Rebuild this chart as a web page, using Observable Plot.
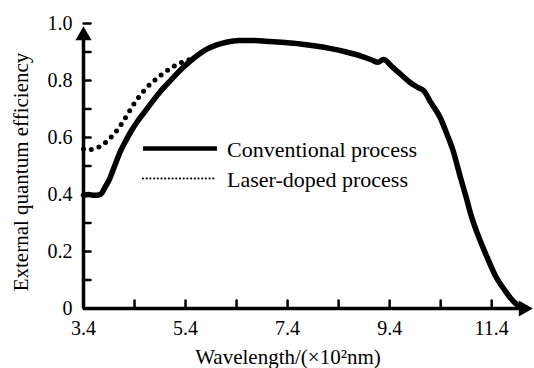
<!DOCTYPE html>
<html>
<head>
<meta charset="utf-8">
<script src="https://cdn.jsdelivr.net/npm/d3@7"></script>
<script src="https://cdn.jsdelivr.net/npm/@observablehq/plot@0.6"></script>
<style>
  html, body { margin: 0; padding: 0; background: #fff; }
  #wrap { position: relative; width: 534px; height: 368px; overflow: hidden; }
  #legend { position: absolute; left: 0; top: 0; pointer-events: none; }
</style>
</head>
<body>
<div id="wrap"></div>
<script>
// ---- data ----
const xDomain = [3.4, 12.2];
const yDomain = [0, 1];

const seriesNames = ["Conventional process", "Laser-doped process"];
const xTitle = "Wavelength/(×10²nm)";
const yTitle = "External quantum efficiency";

// Conventional process (solid)
const convWavelength = [3.40, 3.50, 3.60, 3.70, 3.76, 3.82, 3.90, 4.00, 4.13, 4.23, 4.35, 4.46, 4.59, 4.75, 4.91, 5.08, 5.24, 5.44, 5.63, 5.80, 6.00, 6.20, 6.45, 6.75, 7.05, 7.35, 7.65, 7.95, 8.25, 8.55, 8.85, 9.05, 9.17, 9.28, 9.45, 9.61, 9.80, 9.95, 10.07, 10.20, 10.39, 10.52, 10.65, 10.78, 10.90, 11.00, 11.17, 11.31, 11.47, 11.66, 11.80, 11.92, 12.02];
const convEQE = [0.397, 0.400, 0.397, 0.398, 0.405, 0.425, 0.45, 0.496, 0.554, 0.589, 0.627, 0.657, 0.688, 0.726, 0.762, 0.795, 0.826, 0.86, 0.888, 0.908, 0.924, 0.934, 0.94, 0.94, 0.937, 0.933, 0.928, 0.921, 0.912, 0.90, 0.885, 0.872, 0.864, 0.874, 0.848, 0.823, 0.793, 0.776, 0.764, 0.725, 0.67, 0.613, 0.55, 0.465, 0.39, 0.325, 0.24, 0.18, 0.116, 0.063, 0.03, 0.01, 0.0];

// Laser-doped process (dotted)
const laserWavelength = [3.40, 3.50, 3.60, 3.72, 3.85, 3.95, 4.07, 4.19, 4.29, 4.39, 4.51, 4.64, 4.81, 4.97, 5.14, 5.30, 5.45, 5.60, 5.75];
const laserEQE = [0.56, 0.556, 0.56, 0.568, 0.585, 0.603, 0.628, 0.66, 0.689, 0.718, 0.748, 0.775, 0.803, 0.826, 0.847, 0.862, 0.872, 0.884, 0.902];

const yTickValues = [0, 0.1, 0.2, 0.3, 0.4, 0.5, 0.6, 0.7, 0.8, 0.9, 1.0];
const yLabelValues = [0, 0.2, 0.4, 0.6, 0.8, 1.0];
const xTickValues = [4.4, 5.4, 6.4, 7.4, 8.4, 9.4, 10.4, 11.4];
const xLabelValues = [3.4, 5.4, 7.4, 9.4, 11.4];

// ---- build ----
const conv = convWavelength.map((w, i) => ({w, v: convEQE[i]}));
const laser = laserWavelength.map((w, i) => ({w, v: laserEQE[i]}));
const font = "Liberation Serif, Times New Roman, serif";
const stick = {draw(context, l) { context.moveTo(0, 0); context.lineTo(0, -l); }};

const chart = Plot.plot({
  width: 534,
  height: 368,
  marginLeft: 83,
  marginRight: 2,
  marginTop: 23,
  marginBottom: 60,
  style: {fontFamily: font, fontSize: "20px", color: "black", background: "white", overflow: "hidden"},
  x: {domain: xDomain},
  y: {domain: yDomain},
  marks: [
    Plot.axisY({ticks: yLabelValues, tickSize: 0, tickPadding: 11, tickFormat: d => d === 0 ? "0" : d.toFixed(1), fontSize: 20, label: null}),
    Plot.axisX({ticks: xLabelValues, tickSize: 0, tickPadding: 12, tickFormat: d => d.toFixed(1), fontSize: 20, label: null}),
    Plot.vector(yTickValues, {x: xDomain[0], y: d => d, length: 7, rotate: 90, anchor: "start", shape: stick, strokeWidth: 2.5, stroke: "black"}),
    Plot.vector(xTickValues, {x: d => d, y: yDomain[0], length: 8, rotate: 0, anchor: "start", shape: stick, strokeWidth: 2.5, stroke: "black"}),
    Plot.ruleX([xDomain[0]], {y1: yDomain[0], y2: yDomain[1] * 0.96, strokeWidth: 3.5, stroke: "black"}),
    Plot.ruleY([yDomain[0]], {x1: xDomain[0], x2: xDomain[1] - 0.2, strokeWidth: 3.5, stroke: "black"}),
    Plot.dot([yDomain[1]], {x: xDomain[0], y: d => d, symbol: "triangle", r: 6, fill: "black", stroke: "none", dy: 12}),
    Plot.dot([xDomain[1]], {x: d => d, y: yDomain[0], symbol: "triangle", r: 6, rotate: 90, fill: "black", stroke: "none", dx: -9}),
    Plot.line(laser, {x: "w", y: "v", curve: "monotone-x", stroke: "black", strokeWidth: 5, strokeDasharray: "0 8", strokeLinecap: "round"}),
    Plot.line(conv, {x: "w", y: "v", curve: "monotone-x", stroke: "black", strokeWidth: 5.5, strokeLinejoin: "round", strokeLinecap: "round"}),
    Plot.text([yTitle], {frameAnchor: "left", textAnchor: "middle", rotate: -90, dx: -62, dy: 6, fontSize: 21, fill: "black"}),
    Plot.text([xTitle], {frameAnchor: "bottom", textAnchor: "middle", lineAnchor: "top", dx: -20, dy: 41, fontSize: 21, fill: "black"})
  ]
});

const wrap = document.getElementById("wrap");
wrap.appendChild(chart);

// legend overlay
const ns = "http://www.w3.org/2000/svg";
const lg = document.createElementNS(ns, "svg");
lg.setAttribute("id", "legend");
lg.setAttribute("width", 534);
lg.setAttribute("height", 368);
const legendStyles = [
  {dash: null, width: 4.5, cap: "butt"},
  {dash: "0 3.7", width: 2.2, cap: "round"}
];
seriesNames.forEach((name, i) => {
  const yLine = 148.5 + i * 30;
  const ln = document.createElementNS(ns, "line");
  ln.setAttribute("x1", 143); ln.setAttribute("x2", 217);
  ln.setAttribute("y1", yLine); ln.setAttribute("y2", yLine);
  ln.setAttribute("stroke", "black");
  ln.setAttribute("stroke-width", legendStyles[i].width);
  ln.setAttribute("stroke-linecap", legendStyles[i].cap);
  if (legendStyles[i].dash) ln.setAttribute("stroke-dasharray", legendStyles[i].dash);
  lg.appendChild(ln);
  const t = document.createElementNS(ns, "text");
  t.setAttribute("x", 227);
  t.setAttribute("y", yLine + 8.5);
  t.setAttribute("font-family", font);
  t.setAttribute("font-size", 22);
  t.setAttribute("fill", "black");
  t.textContent = name;
  lg.appendChild(t);
});
wrap.appendChild(lg);
</script>
</body>
</html>
